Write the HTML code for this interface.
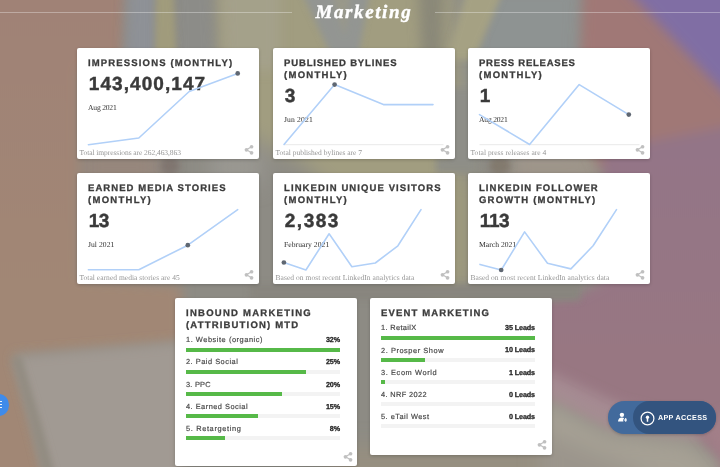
<!DOCTYPE html>
<html><head><meta charset="utf-8"><title>Marketing</title>
<style>
*{box-sizing:border-box;margin:0;padding:0}
html,body{width:720px;height:467px;overflow:hidden;text-rendering:geometricPrecision;background:#9a8a84;font-family:"Liberation Sans",sans-serif;}
#bg{position:absolute;left:0;top:0;width:720px;height:467px;}
.hl{position:absolute;top:11.5px;height:1px;background:rgba(255,255,255,.32)}
h1{position:absolute;will-change:transform;-webkit-text-stroke:.4px #fff;left:0;width:720px;top:.5px;text-align:center;font-family:"Liberation Serif",serif;font-style:italic;font-weight:700;font-size:19px;letter-spacing:1.6px;color:#fff;line-height:24px;padding-left:7.8px}
.card{position:absolute;will-change:transform;width:182px;background:#fff;border-radius:2px;box-shadow:0 1px 3.5px rgba(0,0,0,.2);}
.t{position:absolute;left:11px;top:10.25px;-webkit-text-stroke:.3px #3c3c3c;font-weight:700;font-size:9.5px;line-height:12.1px;color:#3c3c3c;white-space:nowrap}
.n{position:absolute;left:11.8px;-webkit-text-stroke:.45px #3a3a3a;font-weight:700;font-size:19px;line-height:22px;color:#3a3a3a;white-space:nowrap}
.d{position:absolute;left:11px;font-family:"Liberation Serif",serif;font-size:7.6px;line-height:8px;color:#2c2c2c;white-space:nowrap}
.f{position:absolute;left:2.5px;font-family:"Liberation Serif",serif;font-size:7.5px;line-height:8px;color:#959595;white-space:nowrap}
.share{position:absolute;width:12px;height:12px;fill:#c0c0c0}
#sp{position:absolute;left:0;top:0;width:720px;height:467px;pointer-events:none}
.row{position:absolute;left:11px;width:154px;height:22px}
.row .l{position:absolute;left:0;top:.1px;font-size:7.4px;font-weight:400;-webkit-text-stroke:.18px #484848;line-height:9px;color:#484848;white-space:nowrap}
.row .v{position:absolute;right:0;top:0;font-size:7.2px;font-weight:700;-webkit-text-stroke:.25px #222;line-height:9px;color:#222;white-space:nowrap;letter-spacing:-.1px}
.row .tr{position:absolute;left:0;top:12.6px;width:154px;height:4px;background:#f3f3f3}
.row .b{position:absolute;left:0;top:0;height:4px;background:#56b948}
</style></head><body>

<svg id="bg" viewBox="0 0 720 467" preserveAspectRatio="none">
<defs>
<filter id="b3" x="-20%" y="-20%" width="140%" height="140%"><feGaussianBlur stdDeviation="3"/></filter>
<filter id="b6" x="-20%" y="-20%" width="140%" height="140%"><feGaussianBlur stdDeviation="6"/></filter>
<filter id="b10" x="-30%" y="-30%" width="160%" height="160%"><feGaussianBlur stdDeviation="10"/></filter>
<filter id="b16" x="-30%" y="-30%" width="160%" height="160%"><feGaussianBlur stdDeviation="16"/></filter>
<linearGradient id="mv" x1="0" y1="150" x2="0" y2="360" gradientUnits="userSpaceOnUse"><stop offset="0" stop-color="#937587"/><stop offset="1" stop-color="#987782"/></linearGradient>
<linearGradient id="br" x1="0" y1="0" x2="0" y2="300" gradientUnits="userSpaceOnUse"><stop offset="0" stop-color="#a08276"/><stop offset="1" stop-color="#a18775"/></linearGradient>
</defs>
<rect width="720" height="467" fill="#8d8b84"/>
<!-- broad regions -->
<g filter="url(#b10)">
<polygon points="212,-20 452,-20 462,110 462,300 440,300 300,160 212,120" fill="#a19d80"/>
<polygon points="452,178 472,178 472,280 452,280" fill="#9e9a7c"/><polygon points="330,445 600,445 600,490 330,490" fill="#968f80"/>
<polygon points="468,-20 585,-20 580,150 470,150" fill="#8e9392"/>
<polygon points="510,150 600,150 600,180 510,180" fill="#a0968a"/>
<polygon points="80,150 160,150 160,185 80,185" fill="#97867c"/>
<polygon points="210,150 262,150 262,185 210,185" fill="#9a9892"/>
</g>
<!-- left brown -->
<g filter="url(#b6)">
<polygon points="-30,-30 126,-30 123,60 80,70 80,280 182,286 182,343 12,356 30,420 50,500 -30,500" fill="url(#br)"/>
</g>
<!-- top streaks -->
<g filter="url(#b6)">
<polygon points="128,-20 158,-20 158,70 125,70" fill="#8e9196"/>
<polygon points="174,-20 212,-20 216,70 176,70" fill="#8c8c88"/><polygon points="222,-20 280,-20 280,70 226,70" fill="#a5a38f" opacity=".7"/>
<polygon points="418,-20 444,-20 442,70 422,70" fill="#8a8878"/>
</g>
<g filter="url(#b3)">
<polygon points="156,-20 173,-20 177,70 155,70" fill="#a09b7c"/>
<polygon points="296,-20 327,-20 356,70 338,70" fill="#939592"/>
<polygon points="352,-20 372,-20 356,70 340,70" fill="#939592"/><polygon points="322,-20 356,-20 348,40" fill="#939592" opacity=".55"/>
<polygon points="470,-20 508,-20 474,60 446,60" fill="#a5a183"/>
</g>
<!-- right rose / mauve / purple -->
<g filter="url(#b6)">
<polygon points="584,-30 760,-30 760,200 600,170 578,120" fill="#a07876"/>
<polygon points="604,150 760,120 760,500 700,500 722,462 690,436 610,428 540,392 540,302 575,296 604,280" fill="url(#mv)"/>
</g>
<g filter="url(#b6)"><polygon points="540,368 620,404 700,424 700,440 610,430 540,394" fill="#a58a92"/></g>
<g filter="url(#b6)">
<polygon points="618,-20 780,-20 780,152" fill="#806ea4"/>
</g>
<!-- bottom -->
<g filter="url(#b10)"><polygon points="540,396 610,432 690,440 722,466 720,500 540,500" fill="#a6a094"/><polygon points="540,430 650,475 640,500 540,500" fill="#9b958c"/></g>
<g filter="url(#b6)">
<polygon points="14,356 182,342 182,500 52,500 32,420" fill="#a19a93"/>

<polygon points="696,425 760,400 760,480 724,462" fill="#a27f88"/>
</g>
<g filter="url(#b3)"><polygon points="13,358 21,357 40,420 62,500 50,500 31,420" fill="#8f897d" opacity=".8"/></g>
<g filter="url(#b3)"><ellipse cx="170" cy="166" rx="10" ry="9" fill="#7c706a" opacity=".8"/><ellipse cx="500" cy="166" rx="11" ry="9" fill="#7e7468" opacity=".8"/><rect x="436" y="157" width="40" height="16" fill="#8e8e86"/><rect x="450" y="88" width="24" height="75" fill="#8e8e88"/><rect x="250" y="284" width="330" height="16" fill="#88857e"/></g>
</svg>

<div class="hl" style="left:0;width:292px"></div><div class="hl" style="left:435px;width:285px"></div>
<h1>Marketing</h1>
<div class="card" style="left:76.8px;top:48px;height:111.4px"><div class="t"><div style="letter-spacing:1.15px">IMPRESSIONS (MONTHLY)</div></div><div class="n" style="top:26.1px;letter-spacing:1.07px">143,400,147</div><div class="d" style="top:56.0px;letter-spacing:-0.20px">Aug 2021</div><div class="f" style="top:101px;letter-spacing:-0.06px">Total impressions are 262,463,863</div><svg class="share" style="left:166px;top:95.7px" viewBox="0 0 24 24"><path d="M6.900 11.600L17.100 5.500M6.900 11.600L17.100 17.700" stroke="#c0c0c0" stroke-width="2.400" fill="none"/><circle cx="17.100" cy="5.500" r="3.700"/><circle cx="6.900" cy="11.600" r="3.700"/><circle cx="17.100" cy="17.700" r="3.700"/></svg></div>
<div class="card" style="left:272.8px;top:48px;height:111.4px"><div class="t"><div style="letter-spacing:0.86px">PUBLISHED BYLINES</div><div style="letter-spacing:1.28px">(MONTHLY)</div></div><div class="n" style="top:37.9px;letter-spacing:0.00px">3</div><div class="d" style="top:67.8px;letter-spacing:0.16px">Jun 2021</div><div class="f" style="top:101px;letter-spacing:-0.00px">Total published bylines are 7</div><svg class="share" style="left:166px;top:95.7px" viewBox="0 0 24 24"><path d="M6.900 11.600L17.100 5.500M6.900 11.600L17.100 17.700" stroke="#c0c0c0" stroke-width="2.400" fill="none"/><circle cx="17.100" cy="5.500" r="3.700"/><circle cx="6.900" cy="11.600" r="3.700"/><circle cx="17.100" cy="17.700" r="3.700"/></svg></div>
<div class="card" style="left:468.3px;top:48px;height:111.4px"><div class="t"><div style="letter-spacing:0.75px">PRESS RELEASES</div><div style="letter-spacing:1.28px">(MONTHLY)</div></div><div class="n" style="top:37.9px;letter-spacing:0.00px">1</div><div class="d" style="top:67.8px;letter-spacing:-0.20px">Aug 2021</div><div class="f" style="top:101px;letter-spacing:0.04px">Total press releases are 4</div><svg class="share" style="left:166px;top:95.7px" viewBox="0 0 24 24"><path d="M6.900 11.600L17.100 5.500M6.900 11.600L17.100 17.700" stroke="#c0c0c0" stroke-width="2.400" fill="none"/><circle cx="17.100" cy="5.500" r="3.700"/><circle cx="6.900" cy="11.600" r="3.700"/><circle cx="17.100" cy="17.700" r="3.700"/></svg></div>
<div class="card" style="left:76.8px;top:172.9px;height:111.4px"><div class="t"><div style="letter-spacing:1.07px">EARNED MEDIA STORIES</div><div style="letter-spacing:1.28px">(MONTHLY)</div></div><div class="n" style="top:37.9px;letter-spacing:-0.53px">13</div><div class="d" style="top:67.8px;letter-spacing:0.06px">Jul 2021</div><div class="f" style="top:101px;letter-spacing:0.03px">Total earned media stories are 45</div><svg class="share" style="left:166px;top:95.7px" viewBox="0 0 24 24"><path d="M6.900 11.600L17.100 5.500M6.900 11.600L17.100 17.700" stroke="#c0c0c0" stroke-width="2.400" fill="none"/><circle cx="17.100" cy="5.500" r="3.700"/><circle cx="6.900" cy="11.600" r="3.700"/><circle cx="17.100" cy="17.700" r="3.700"/></svg></div>
<div class="card" style="left:272.8px;top:172.9px;height:111.4px"><div class="t"><div style="letter-spacing:1.10px">LINKEDIN UNIQUE VISITORS</div><div style="letter-spacing:1.28px">(MONTHLY)</div></div><div class="n" style="top:37.9px;letter-spacing:1.51px">2,383</div><div class="d" style="top:67.8px;letter-spacing:0.06px">February 2021</div><div class="f" style="top:101px;letter-spacing:0.05px">Based on most recent LinkedIn analytics data</div><svg class="share" style="left:166px;top:95.7px" viewBox="0 0 24 24"><path d="M6.900 11.600L17.100 5.500M6.900 11.600L17.100 17.700" stroke="#c0c0c0" stroke-width="2.400" fill="none"/><circle cx="17.100" cy="5.500" r="3.700"/><circle cx="6.900" cy="11.600" r="3.700"/><circle cx="17.100" cy="17.700" r="3.700"/></svg></div>
<div class="card" style="left:468.3px;top:172.9px;height:111.4px"><div class="t"><div style="letter-spacing:1.05px">LINKEDIN FOLLOWER</div><div style="letter-spacing:1.19px">GROWTH (MONTHLY)</div></div><div class="n" style="top:37.9px;letter-spacing:-0.43px">113</div><div class="d" style="top:67.8px;letter-spacing:0.03px">March 2021</div><div class="f" style="top:101px;letter-spacing:0.05px">Based on most recent LinkedIn analytics data</div><svg class="share" style="left:166px;top:95.7px" viewBox="0 0 24 24"><path d="M6.900 11.600L17.100 5.500M6.900 11.600L17.100 17.700" stroke="#c0c0c0" stroke-width="2.400" fill="none"/><circle cx="17.100" cy="5.500" r="3.700"/><circle cx="6.900" cy="11.600" r="3.700"/><circle cx="17.100" cy="17.700" r="3.700"/></svg></div>
<svg id="sp" viewBox="0 0 720 467"><polyline points="88.4,144.7 138.8,138.0 189.2,91.5 237.7,73.4" fill="none" stroke="#b1d0f8" stroke-width="1.6" stroke-linejoin="round" stroke-linecap="round"/><circle cx="237.7" cy="73.4" r="2.35" fill="#5f6772"/><line x1="284" y1="144.7" x2="443.5" y2="144.7" stroke="#e6e6e6" stroke-width="0.9"/><polyline points="284.0,144.5 334.6,84.6 383.4,104.6 433.0,104.6" fill="none" stroke="#b1d0f8" stroke-width="1.6" stroke-linejoin="round" stroke-linecap="round"/><circle cx="334.6" cy="84.6" r="2.35" fill="#5f6772"/><line x1="479.5" y1="144.7" x2="639.5" y2="144.7" stroke="#e6e6e6" stroke-width="0.9"/><polyline points="479.5,114.6 529.6,144.5 579.2,84.6 628.8,114.6" fill="none" stroke="#b1d0f8" stroke-width="1.6" stroke-linejoin="round" stroke-linecap="round"/><circle cx="628.8" cy="114.6" r="2.35" fill="#5f6772"/><polyline points="88.4,269.7 138.8,269.7 187.8,245.2 237.7,209.6" fill="none" stroke="#b1d0f8" stroke-width="1.6" stroke-linejoin="round" stroke-linecap="round"/><circle cx="187.8" cy="245.2" r="2.35" fill="#5f6772"/><polyline points="283.9,262.5 305.9,270.0 329.1,233.8 351.9,266.7 375.3,263.0 397.9,245.8 421.0,209.6" fill="none" stroke="#b1d0f8" stroke-width="1.6" stroke-linejoin="round" stroke-linecap="round"/><circle cx="283.9" cy="262.5" r="2.35" fill="#5f6772"/><polyline points="480.0,264.4 501.2,270.0 524.6,231.9 547.5,263.3 570.9,268.9 593.1,245.8 616.5,209.6" fill="none" stroke="#b1d0f8" stroke-width="1.6" stroke-linejoin="round" stroke-linecap="round"/><circle cx="501.2" cy="270.0" r="2.35" fill="#5f6772"/></svg>
<div class="card" style="left:174.8px;top:297.9px;height:167.7px"><div class="t"><div style="letter-spacing:1.26px">INBOUND MARKETING</div><div style="letter-spacing:1.18px">(ATTRIBUTION) MTD</div></div><div class="row" style="top:37.20px"><div class="l" style="letter-spacing:0.55px">1. Website (organic)</div><div class="v">32%</div><div class="tr"><div class="b" style="width:154px"></div></div></div><div class="row" style="top:59.35px"><div class="l" style="letter-spacing:0.51px">2. Paid Social</div><div class="v">25%</div><div class="tr"><div class="b" style="width:120.3px"></div></div></div><div class="row" style="top:81.50px"><div class="l" style="letter-spacing:0.23px">3. PPC</div><div class="v">20%</div><div class="tr"><div class="b" style="width:96.25px"></div></div></div><div class="row" style="top:103.65px"><div class="l" style="letter-spacing:0.49px">4. Earned Social</div><div class="v">15%</div><div class="tr"><div class="b" style="width:72.2px"></div></div></div><div class="row" style="top:125.80px"><div class="l" style="letter-spacing:0.65px">5. Retargeting</div><div class="v">8%</div><div class="tr"><div class="b" style="width:38.5px"></div></div></div><svg class="share" style="left:166.6px;top:152.5px" viewBox="0 0 24 24"><path d="M6.900 11.600L17.100 5.500M6.900 11.600L17.100 17.700" stroke="#c0c0c0" stroke-width="2.400" fill="none"/><circle cx="17.100" cy="5.500" r="3.700"/><circle cx="6.900" cy="11.600" r="3.700"/><circle cx="17.100" cy="17.700" r="3.700"/></svg></div>
<div class="card" style="left:370.4px;top:297.9px;height:156.6px"><div class="t"><div style="letter-spacing:1.15px">EVENT MARKETING</div></div><div class="row" style="top:25.30px"><div class="l" style="letter-spacing:0.35px">1. RetailX</div><div class="v">35 Leads</div><div class="tr"><div class="b" style="width:154px"></div></div></div><div class="row" style="top:47.45px"><div class="l" style="letter-spacing:0.56px">2. Prosper Show</div><div class="v">10 Leads</div><div class="tr"><div class="b" style="width:44px"></div></div></div><div class="row" style="top:69.60px"><div class="l" style="letter-spacing:0.61px">3. Ecom World</div><div class="v">1 Leads</div><div class="tr"><div class="b" style="width:4.4px"></div></div></div><div class="row" style="top:91.75px"><div class="l" style="letter-spacing:0.38px">4. NRF 2022</div><div class="v">0 Leads</div><div class="tr"><div class="b" style="width:0px"></div></div></div><div class="row" style="top:113.90px"><div class="l" style="letter-spacing:0.49px">5. eTail West</div><div class="v">0 Leads</div><div class="tr"><div class="b" style="width:0px"></div></div></div><svg class="share" style="left:166.4px;top:140.8px" viewBox="0 0 24 24"><path d="M6.900 11.600L17.100 5.500M6.900 11.600L17.100 17.700" stroke="#c0c0c0" stroke-width="2.400" fill="none"/><circle cx="17.100" cy="5.500" r="3.700"/><circle cx="6.900" cy="11.600" r="3.700"/><circle cx="17.100" cy="17.700" r="3.700"/></svg></div>
<div style="position:absolute;left:-12.2px;top:394.3px;width:21.4px;height:21.4px;border-radius:50%;background:#3f8bea"></div>
<div style="position:absolute;left:0;top:401.1px;width:2.2px;height:.9px;background:#fff;opacity:.9"></div><div style="position:absolute;left:0;top:404.1px;width:2.2px;height:.9px;background:#fff;opacity:.9"></div><div style="position:absolute;left:0;top:406.9px;width:2.2px;height:.9px;background:#fff;opacity:.9"></div>
<div style="position:absolute;left:607.8px;top:401.2px;width:108px;height:32.5px;border-radius:16.25px;background:#426a9c;box-shadow:0 1px 3px rgba(0,0,0,.2)"></div>
<div style="position:absolute;left:632.5px;top:401.2px;width:83.3px;height:32.5px;border-radius:16.25px;background:#33547f"></div>
<svg style="position:absolute;left:617.6px;top:411.6px;width:9.6px;height:10.5px" viewBox="0 0 22 24"><circle cx="9" cy="6.500" r="5" fill="#fff"/><path d="M0 22c0-6 4-9.500 9-9.500 2 0 3.800.600 5.200 1.600-1.500 1.200-2.400 3-2.400 5 0 1 .300 2 .700 2.900z" fill="#fff"/><path d="M16.500 14v3h-3v2.400h3v3h2.400v-3h3V17h-3v-3z" fill="#fff"/></svg>
<svg style="position:absolute;left:640.4px;top:410.6px;width:15px;height:15px" viewBox="0 0 30 30"><circle cx="15" cy="15" r="12.800" fill="none" stroke="#fff" stroke-width="2.400"/><circle cx="15" cy="12.300" r="3.300" fill="#fff"/><rect x="13.500" y="13" width="3" height="8.500" rx="1" fill="#fff"/></svg>
<div style="position:absolute;will-change:transform;left:658px;top:413.3px;font-size:7.2px;font-weight:700;letter-spacing:.3px;color:#fff;line-height:9px;white-space:nowrap">APP ACCESS</div>
</body></html>
